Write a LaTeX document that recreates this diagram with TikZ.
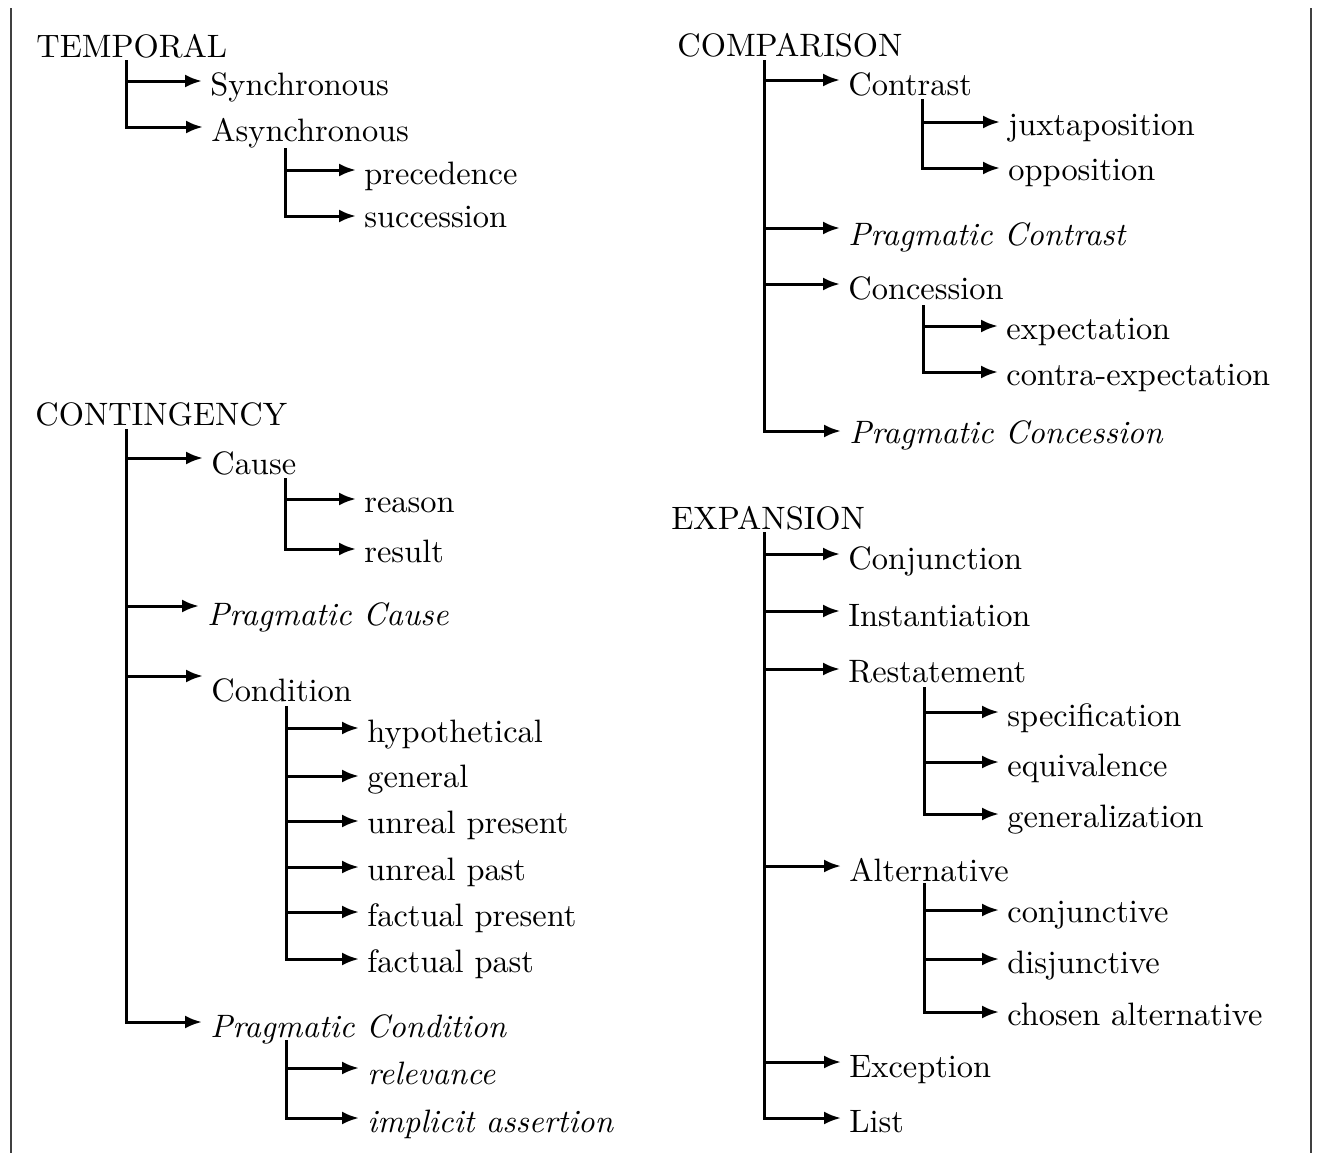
\documentclass[tikz,border=0pt]{standalone}
\usepackage{fontspec}
\setmainfont{lmroman10-regular.otf}[ItalicFont=lmroman10-italic.otf]
\usetikzlibrary{arrows.meta}
\tikzset{
  lbl/.style={anchor=base west, inner sep=0pt, font=\fontsize{16.2}{19}\selectfont},
  ilbl/.style={lbl, font=\fontsize{16.2}{19}\selectfont\itshape},
  arr/.style={line width=1.5pt, -{Latex[length=8.5pt,width=6.5pt]}},
  frame/.style={line width=0.8pt, black!75}
}
\newcommand\mkarrow[3]{\draw[arr] (#1) |- ([shift={(-8,-#3)}]#2.base west);}
\begin{document}
\begin{tikzpicture}[x=0.5pt,y=-0.5pt]
\useasboundingbox (0,0) rectangle (1317,1153);
\draw[frame] (11,8) -- (11,1153);
\draw[frame] (1311,8) -- (1311,1153);

% TEMPORAL
\node[lbl] (temp) at (36,57) {TEMPORAL};
\coordinate (tT) at (126,60);
\node[lbl] (syn) at (210,95) {Synchronous};
\node[lbl] (asyn) at (211,141) {Asynchronous};
\coordinate (tA) at (285,148);
\node[lbl] (prec) at (364,184) {precedence};
\node[lbl] (succ) at (364,227) {succession};
\mkarrow{tT}{syn}{14}
\mkarrow{tT}{asyn}{14}
\mkarrow{tA}{prec}{14}
\mkarrow{tA}{succ}{11}

% CONTINGENCY
\node[lbl] (cont) at (35,425) {CONTINGENCY};
\coordinate (tC) at (126,429);
\node[lbl] (cause) at (211,474) {Cause};
\node[ilbl] (pcause) at (207,625) {Pragmatic Cause};
\node[lbl] (cond) at (211,701) {Condition};
\node[ilbl] (pcond) at (210,1037) {Pragmatic Condition};
\mkarrow{tC}{cause}{16}
\mkarrow{tC}{pcause}{19}
\mkarrow{tC}{cond}{25}
\mkarrow{tC}{pcond}{15}
\coordinate (tCa) at (285,478);
\node[lbl] (reason) at (364,512) {reason};
\node[lbl] (result) at (364,562) {result};
\mkarrow{tCa}{reason}{13}
\mkarrow{tCa}{result}{13}
\coordinate (tCo) at (286,706);
\node[lbl] (hyp) at (367,742) {hypothetical};
\node[lbl] (gen) at (367,787) {general};
\node[lbl] (urpr) at (367,833) {unreal present};
\node[lbl] (urpa) at (367,880) {unreal past};
\node[lbl] (fapr) at (367,926) {factual present};
\node[lbl] (fapa) at (367,972) {factual past};
\mkarrow{tCo}{hyp}{14}
\mkarrow{tCo}{gen}{11}
\mkarrow{tCo}{urpr}{12}
\mkarrow{tCo}{urpa}{13}
\mkarrow{tCo}{fapr}{14}
\mkarrow{tCo}{fapa}{13}
\coordinate (tPc) at (286,1040);
\node[ilbl] (rel) at (367,1084) {relevance};
\node[ilbl] (impl) at (367,1132) {implicit assertion};
\mkarrow{tPc}{rel}{16}
\mkarrow{tPc}{impl}{14}

% COMPARISON
\node[lbl] (comp) at (677,56) {COMPARISON};
\coordinate (tM) at (764,60);
\node[lbl] (contr) at (848,95) {Contrast};
\node[ilbl] (pcontr) at (848,245) {Pragmatic Contrast};
\node[lbl] (conc) at (848,299) {Concession};
\node[ilbl] (pconc) at (849,443) {Pragmatic Concession};
\mkarrow{tM}{contr}{15}
\mkarrow{tM}{pcontr}{17}
\mkarrow{tM}{conc}{15}
\mkarrow{tM}{pconc}{12}
\coordinate (tMc) at (922,99);
\node[lbl] (juxt) at (1008,135) {juxtaposition};
\node[lbl] (oppo) at (1008,180) {opposition};
\mkarrow{tMc}{juxt}{13}
\mkarrow{tMc}{oppo}{12}
\coordinate (tMn) at (923,305);
\node[lbl] (expe) at (1006,339) {expectation};
\node[lbl] (cexp) at (1006,385) {contra-expectation};
\mkarrow{tMn}{expe}{13}
\mkarrow{tMn}{cexp}{13}

% EXPANSION
\node[lbl] (expa) at (671,529) {EXPANSION};
\coordinate (tE) at (764,532);
\node[lbl] (conj) at (848,569) {Conjunction};
\node[lbl] (inst) at (848,626) {Instantiation};
\node[lbl] (rest) at (848,682) {Restatement};
\node[lbl] (alt) at (849,881) {Alternative};
\node[lbl] (exc) at (849,1077) {Exception};
\node[lbl] (list) at (849,1132) {List};
\mkarrow{tE}{conj}{15}
\mkarrow{tE}{inst}{15}
\mkarrow{tE}{rest}{13}
\mkarrow{tE}{alt}{15}
\mkarrow{tE}{exc}{15}
\mkarrow{tE}{list}{14}
\coordinate (tEr) at (924,687);
\node[lbl] (spec) at (1007,726) {specification};
\node[lbl] (equi) at (1007,776) {equivalence};
\node[lbl] (genz) at (1007,827) {generalization};
\mkarrow{tEr}{spec}{14}
\mkarrow{tEr}{equi}{14}
\mkarrow{tEr}{genz}{13}
\coordinate (tEa) at (924,883);
\node[lbl] (cjv) at (1007,922) {conjunctive};
\node[lbl] (djv) at (1007,973) {disjunctive};
\node[lbl] (chal) at (1007,1025) {chosen alternative};
\mkarrow{tEa}{cjv}{12}
\mkarrow{tEa}{djv}{14}
\mkarrow{tEa}{chal}{13}
\end{tikzpicture}
\end{document}
